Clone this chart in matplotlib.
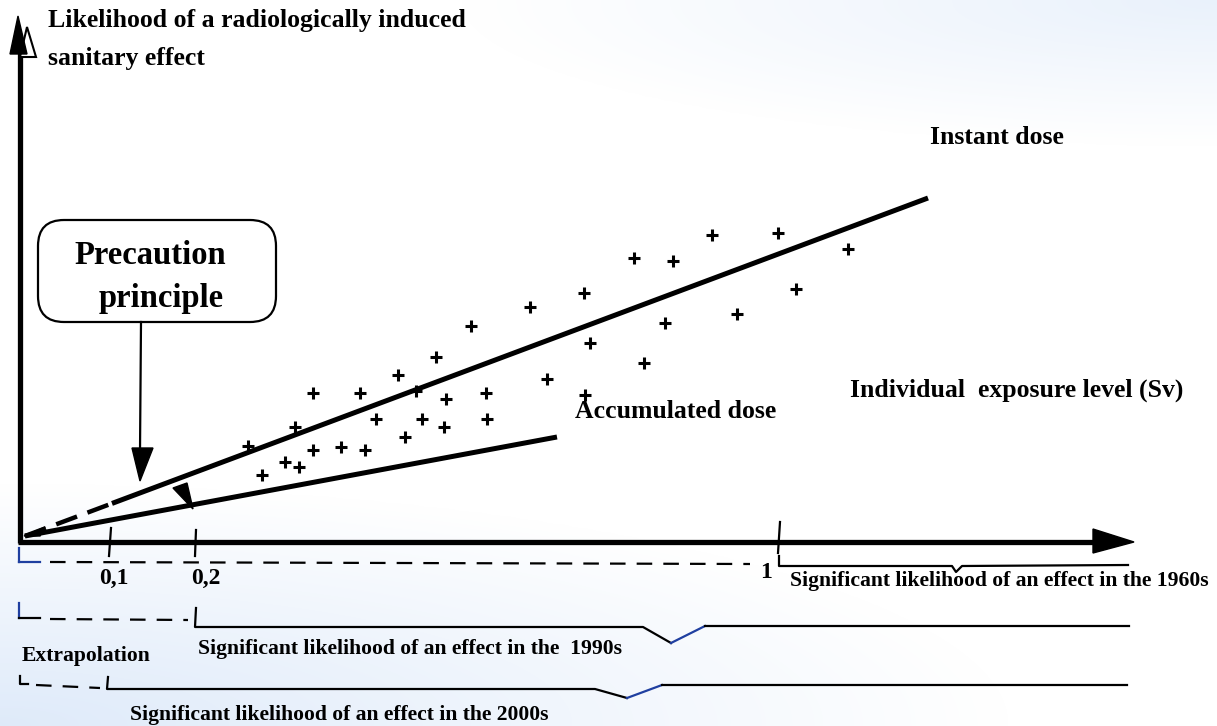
import numpy as np
import matplotlib
matplotlib.use("Agg")
import matplotlib.pyplot as plt
from matplotlib.patches import Polygon, FancyBboxPatch

# schematic canvas units (x right, y down)
W, H = 1217, 726

# scattered observations ("+")
obs_x = [248, 262, 285, 299, 295, 313, 313, 341, 365, 360, 376, 398, 405, 416, 422,
         436, 446, 444, 471, 486, 487, 530, 547, 584, 585, 590, 634, 644, 673, 665,
         712, 737, 778, 796, 848]
obs_y = [446, 475, 462, 467, 427, 393, 450, 447, 450, 393, 419, 375, 437, 391, 419,
         357, 399, 427, 326, 393, 419, 307, 379, 293, 395, 343, 258, 363, 261, 323,
         235, 314, 233, 289, 249]

origin = (25, 536)
instant_end = (928, 198)
instant_dash_to = 112
accum_end = (557, 437)

tick_x = [110, 195, 779]
tick_labels = ["0,1", "0,2", "1"]

period_labels = ["Significant likelihood of an effect in the 1960s",
                 "Significant likelihood of an effect in the  1990s",
                 "Significant likelihood of an effect in the 2000s"]

SERIF = ["Liberation Serif", "DejaVu Serif"]

fig = plt.figure(figsize=(W / 100, H / 100), dpi=100)
ax = fig.add_axes([0, 0, 1, 1])
ax.set_xlim(0, W)
ax.set_ylim(H, 0)
ax.axis("off")

# soft blue background tint in corners
gx, gy = np.meshgrid(np.linspace(0, 1, 300), np.linspace(0, 1, 180))
a1 = np.clip(1 - np.hypot(gx * 1.2, (1 - gy) * 3.0), 0, 1) * 0.9
a2 = np.clip(1 - np.hypot((1 - gx) * 1.6, gy * 5.0), 0, 1) * 0.6
alpha = np.clip(a1 + a2, 0, 1)
img = np.zeros((180, 300, 4))
img[..., 0] = 0.86
img[..., 1] = 0.91
img[..., 2] = 0.98
img[..., 3] = alpha
ax.imshow(img, extent=[0, W, H, 0], aspect="auto", zorder=0, interpolation="bilinear")

def tri(pts, fc="black", ec="black", lw=1, z=5):
    ax.add_patch(Polygon(pts, closed=True, fc=fc, ec=ec, lw=lw, zorder=z))

# axes arrows
ax.plot([20, 20], [543, 45], color="black", lw=3.8, solid_capstyle="butt", zorder=4)
tri([(27, 27), (20, 57), (36, 57)], fc="white", ec="black", lw=1.5, z=4)
tri([(18, 16), (10, 54), (27, 54)])
ax.plot([18, 1095], [542, 542], color="black", lw=3.8, solid_capstyle="butt", zorder=4)
tri([(1093, 529), (1134, 542), (1093, 553)])

# dose-response lines
ix = np.array([origin[0], instant_end[0]])
iy = np.array([origin[1], instant_end[1]])
slope = (iy[1] - iy[0]) / (ix[1] - ix[0])
y_dash = origin[1] + slope * (instant_dash_to - origin[0])
ax.plot([origin[0], instant_dash_to], [origin[1], y_dash], color="black", lw=3.2,
        dashes=(5, 2.5), zorder=5)
ax.plot([instant_dash_to, instant_end[0]], [y_dash, instant_end[1]], color="black",
        lw=3.6, solid_capstyle="butt", zorder=5)
ax.plot([origin[0], accum_end[0]], [origin[1], accum_end[1]], color="black", lw=3.6,
        solid_capstyle="butt", zorder=5)
tri([(24, 536), (45, 527), (40, 536)])

ax.plot(obs_x, obs_y, ls="none", marker="+", ms=8.5, mew=2.2, color="black", zorder=6)

# precaution box and arrows
ax.add_patch(FancyBboxPatch((50, 232), 214, 78, boxstyle="round,pad=12,rounding_size=26",
                            fc="white", ec="black", lw=1.6, zorder=5))
ax.text(150, 255, "Precaution", family=SERIF, weight="bold", fontsize=23.5,
        ha="center", va="center", zorder=6)
ax.text(161, 299, "principle", family=SERIF, weight="bold", fontsize=23.5,
        ha="center", va="center", zorder=6)
ax.plot([141, 140], [322, 452], color="black", lw=1.6, zorder=5)
tri([(132, 448), (153, 448), (140, 481)])
tri([(173, 488), (187, 483), (193, 509)])

# ticks on the dose axis
ax.plot([111, 109], [528, 556], color="black", lw=1.6, zorder=5)
ax.plot([196, 195], [530, 556], color="black", lw=1.6, zorder=5)
ax.plot([780, 778], [522, 553], color="black", lw=1.6, zorder=5)
for tl, lx, ly in zip(tick_labels, [114, 206, 766], [578, 578, 572]):
    ax.text(lx, ly, tl, family=SERIF, weight="bold", fontsize=17, ha="center", va="center")

# period rows
blue = "#1f3fa0"
lk = dict(color="black", lw=1.6, zorder=5)
dk = dict(color="black", lw=1.6, dashes=(7, 5), zorder=5)
# 1960s
ax.plot([19, 19], [548, 562], color=blue, lw=1.6)
ax.plot([19, 40], [562, 562], color=blue, lw=1.6)
ax.plot([50, 750], [562, 564], **dk)
ax.plot([779, 779, 952, 956, 962, 1128], [556, 566, 566, 572, 566, 565], **lk)
# 1990s
ax.plot([19, 19], [603, 618], color=blue, lw=1.6)
ax.plot([19, 40], [618, 618], **lk)
ax.plot([50, 188], [619, 620], **dk)
ax.plot([196, 195, 643, 671], [608, 627, 627, 643], **lk)
ax.plot([671, 705], [643, 626], color=blue, lw=1.6, zorder=5)
ax.plot([705, 1129], [626, 626], **lk)
# 2000s
ax.plot([20, 20, 28], [676, 684, 684], **lk)
ax.plot([36, 100], [685, 688], **dk)
ax.plot([108, 107, 595, 627], [677, 689, 689, 698], **lk)
ax.plot([627, 662], [698, 685], color=blue, lw=1.6, zorder=5)
ax.plot([662, 1127], [685, 685], **lk)

# labels
tkw = dict(family=SERIF, weight="bold", va="center", ha="left")
ax.text(48, 20, "Likelihood of a radiologically induced", fontsize=18.5, **tkw)
ax.text(48, 58, "sanitary effect", fontsize=18.5, **tkw)
ax.text(930, 137, "Instant dose", fontsize=18.5, **tkw)
ax.text(850, 390, "Individual  exposure level (Sv)", fontsize=18.5, **tkw)
ax.text(575, 412, "Accumulated dose", fontsize=18.5, **tkw)
ax.text(790, 581, period_labels[0], fontsize=15.6, **tkw)
ax.text(198, 649, period_labels[1], fontsize=15.6, **tkw)
ax.text(130, 715, period_labels[2], fontsize=15.6, **tkw)
ax.text(22, 656, "Extrapolation", fontsize=15.6, **tkw)

fig.savefig("out.png", dpi=100)
